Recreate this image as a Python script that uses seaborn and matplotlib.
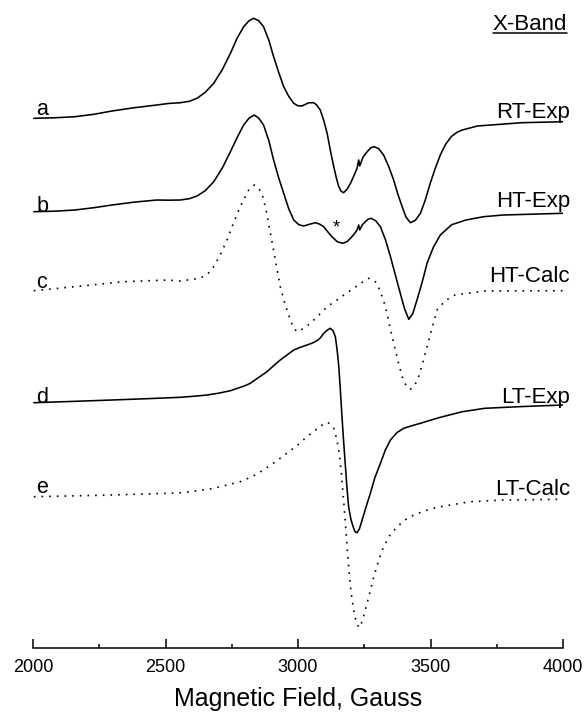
import numpy as np
import pandas as pd
import matplotlib
matplotlib.use("Agg")
import matplotlib.pyplot as plt
from matplotlib.lines import Line2D
from matplotlib.ticker import MultipleLocator
import seaborn as sns

# ---------------- data ----------------
field_a = [2003, 2080, 2158, 2230, 2298, 2380, 2467, 2510, 2556, 2590, 2619, 2650, 2682, 2715,
           2745, 2770, 2795, 2815, 2833, 2852, 2870, 2890, 2908, 2927, 2946, 2965, 2984, 3000,
           3015, 3040, 3059, 3070, 3084, 3097, 3110, 3122, 3135, 3145, 3154, 3163, 3172, 3185,
           3198, 3210, 3223, 3229, 3233, 3245, 3261, 3275, 3288, 3305, 3323, 3342, 3361, 3377,
           3393, 3408, 3424, 3443, 3462, 3480, 3499, 3518, 3537, 3557, 3578, 3600, 3620, 3677,
           3845, 4000]
sig_a = [0, 0.5, 1.6, 4, 7.3, 10.5, 13.3, 14.8, 15.6, 17, 20, 26, 35, 49,
         65, 80, 91.6, 97.5, 100, 97.5, 91.6, 78, 61.6, 46, 31.6, 22, 15, 12.5,
         12.3, 15.5, 15.6, 13.5, 8.3, -2, -15, -32, -48.4, -60, -68.4, -73, -74.4, -71,
         -65, -58, -50, -41.7, -47.7, -39, -33.4, -29.5, -28.4, -30.5, -36.7, -48, -61.7, -76,
         -88.4, -99, -104.4, -102, -95, -82, -65, -50, -36.7, -26, -18.4, -14, -11.7, -7.7,
         -4.4, -3.4]

field_b = [2003, 2080, 2158, 2230, 2298, 2380, 2467, 2510, 2556, 2590, 2619, 2650, 2682, 2715,
           2745, 2770, 2795, 2815, 2835, 2852, 2870, 2890, 2908, 2927, 2946, 2965, 2984, 3003,
           3022, 3044, 3066, 3082, 3097, 3112, 3128, 3148, 3168, 3185, 3198, 3210, 3223, 3229,
           3233, 3243, 3254, 3265, 3276, 3293, 3311, 3330, 3349, 3368, 3386, 3402, 3418, 3433,
           3449, 3468, 3487, 3510, 3537, 3580, 3634, 3700, 3775, 4000]
sig_b = [0, 0.5, 1.7, 4, 6.7, 9.5, 11.7, 11.5, 11.7, 13, 15.7, 21, 30, 44,
         60, 74, 86.7, 93.5, 96.7, 93.5, 86.7, 71, 51.7, 34, 18.4, 3, -8.3, -13,
         -14.3, -12.5, -11, -12.5, -15, -20, -25, -30, -31.6, -30, -26.6, -23, -18.3, -13.3,
         -18.3, -13, -10, -7.5, -6.6, -9, -15, -28, -45, -64, -81.6, -97, -107.6, -102,
         -88.3, -71, -51.6, -36, -23.3, -13, -8.3, -5, -3.3, -1.6]

field_c = [2003, 2158, 2340, 2509, 2556, 2631, 2660, 2682, 2707, 2732, 2757, 2782, 2814, 2835,
           2850, 2864, 2880, 2896, 2915, 2933, 2952, 2971, 2983, 2996, 3020, 3047, 3080, 3110,
           3147, 3180, 3210, 3240, 3267, 3283, 3298, 3314, 3330, 3345, 3361, 3377, 3393, 3408,
           3424, 3440, 3455, 3471, 3487, 3506, 3525, 3555, 3592, 3705, 4000]
sig_c = [0, 4, 9, 10.7, 9.7, 12.4, 17, 24, 36, 50.7, 68, 84, 100.7, 105.7,
         103, 97.4, 80, 57.4, 30, 4, -14, -29.3, -37, -41, -38, -32.6, -24, -16,
         -9.3, -3, 2.4, 8, 12.4, 11, 7.4, -3, -16, -34, -52.6, -70, -86, -95,
         -98.6, -95, -86, -72, -56, -37, -19.3, -10, -4.3, -0.3, 0]

field_d = [2003, 2150, 2298, 2430, 2556, 2610, 2657, 2700, 2745, 2800, 2820, 2850, 2883, 2908,
           2933, 2960, 2984, 3010, 3034, 3053, 3072, 3085, 3097, 3110, 3122, 3132, 3141, 3148,
           3154, 3160, 3166, 3172, 3179, 3185, 3191, 3200, 3208, 3215, 3223, 3232, 3242, 3256,
           3273, 3290, 3311, 3330, 3349, 3373, 3399, 3430, 3462, 3500, 3537, 3620, 3705, 3850, 4000]
sig_d = [0, 1.3, 2.7, 4, 5.4, 6.5, 7.7, 9.5, 12, 17, 19.4, 25, 31, 37,
         42.7, 48, 52.7, 55.5, 57.7, 59.5, 62, 65, 69.4, 72.5, 74.4, 72, 66, 52,
         36, 12, -14, -38, -64, -86, -104, -117, -124, -129, -130, -126, -117.3, -105,
         -90.6, -75, -60.6, -47, -37.3, -30, -25.6, -23, -20.6, -17.5, -14.6, -9, -5.6, -3.8, -2.3]

field_e = [2003, 2150, 2298, 2509, 2568, 2620, 2682, 2730, 2782, 2830, 2870, 2915, 2958, 3000,
           3034, 3060, 3084, 3097, 3110, 3123, 3135, 3145, 3154, 3163, 3172, 3182, 3191, 3200,
           3210, 3220, 3231, 3242, 3254, 3270, 3286, 3304, 3323, 3348, 3374, 3405, 3437, 3480,
           3525, 3650, 3775, 4000]
sig_e = [0, 0.8, 1.7, 3.4, 4, 6, 8.4, 11.5, 15, 20.5, 26.7, 35, 43.4, 52,
         60, 65.5, 70, 73, 74.4, 72.5, 68.4, 59, 46.7, 25, -3.3, -38, -70, -95,
         -113.3, -126, -131, -125, -113.3, -97, -80, -64, -50, -38, -30, -23, -18.3, -14,
         -10.6, -5, -3.3, -2.6]

trace_ids = ["a", "b", "c", "d", "e"]
trace_names = ["RT-Exp", "HT-Exp", "HT-Calc", "LT-Exp", "LT-Calc"]
trace_offsets = [118.3, 211.7, 290.7, 402.7, 496.7]
trace_kind = ["exp", "exp", "calc", "exp", "calc"]
xticks_major = [2000, 2500, 3000, 3500, 4000]

fields = [field_a, field_b, field_c, field_d, field_e]
signals = [sig_a, sig_b, sig_c, sig_d, sig_e]

# ---------------- figure ----------------
sns.set_style("white")
plt.rcParams["font.family"] = ["Liberation Sans", "DejaVu Sans"]
plt.rcParams["text.color"] = "black"
plt.rcParams["axes.labelcolor"] = "black"
plt.rcParams["xtick.color"] = "black"

W, H = 584, 715
fig = plt.figure(figsize=(W / 100, H / 100), dpi=100)
ax = fig.add_axes([33 / W, 1 - 648 / H, 530 / W, 643 / H])

for fx, sg, off, kind in zip(fields, signals, trace_offsets, trace_kind):
    df = pd.DataFrame({"field": fx, "y": np.array(sg) - off})
    if kind == "exp":
        sns.lineplot(data=df, x="field", y="y", ax=ax, sort=False, estimator=None,
                     color="black", linewidth=1.15)
    else:
        sns.lineplot(data=df, x="field", y="y", ax=ax, sort=False, estimator=None,
                     color="black", linewidth=1.2, linestyle=(0, (1, 3.6)))

ax.set_xlim(2000, 4000)
ax.set_ylim(-648, -5)

for s in ["left", "top", "right"]:
    ax.spines[s].set_visible(False)
ax.spines["bottom"].set_linewidth(1.1)
ax.spines["bottom"].set_color("black")
ax.set_yticks([])
ax.set_ylabel("")
ax.set_xticks(xticks_major)
ax.set_xticklabels([str(t) for t in xticks_major])
ax.xaxis.set_minor_locator(MultipleLocator(250))
ax.tick_params(axis="x", which="major", direction="in", length=6.5, width=1.1,
               pad=8, labelsize=13, colors="black", bottom=True)
ax.tick_params(axis="x", which="minor", direction="in", length=3, width=1.1,
               colors="black", bottom=True)
ax.set_xlabel("Magnetic Field, Gauss", fontsize=18, labelpad=8, color="black")

# left labels
left_label_y = [115, 212, 288, 403, 493]
for lab, yy in zip(trace_ids, left_label_y):
    ax.text(2012, -yy, lab, fontsize=15.5, ha="left", va="baseline", color="black")

# right labels
right_label_y = [118, 207, 282, 403, 495]
for lab, yy in zip(trace_names, right_label_y):
    ax.text(4027, -yy, lab, fontsize=16, ha="right", va="baseline", clip_on=False,
            color="black")

# asterisk
ax.text(3143, -228, "*", fontsize=13, ha="center", va="center", color="black")

# X-Band with underline
tx = ax.text(4015, -30, "X-Band", fontsize=16, ha="right", va="baseline", clip_on=False,
             color="black")
fig.canvas.draw()
bb = tx.get_window_extent()
inv = ax.transData.inverted()
(x0, _), (x1, _) = inv.transform([(bb.x0, 0), (bb.x1, 0)])
ax.add_line(Line2D([x0, x1], [-33, -33], color="black", linewidth=1.1, clip_on=False))

fig.savefig("out.png", dpi=100)
